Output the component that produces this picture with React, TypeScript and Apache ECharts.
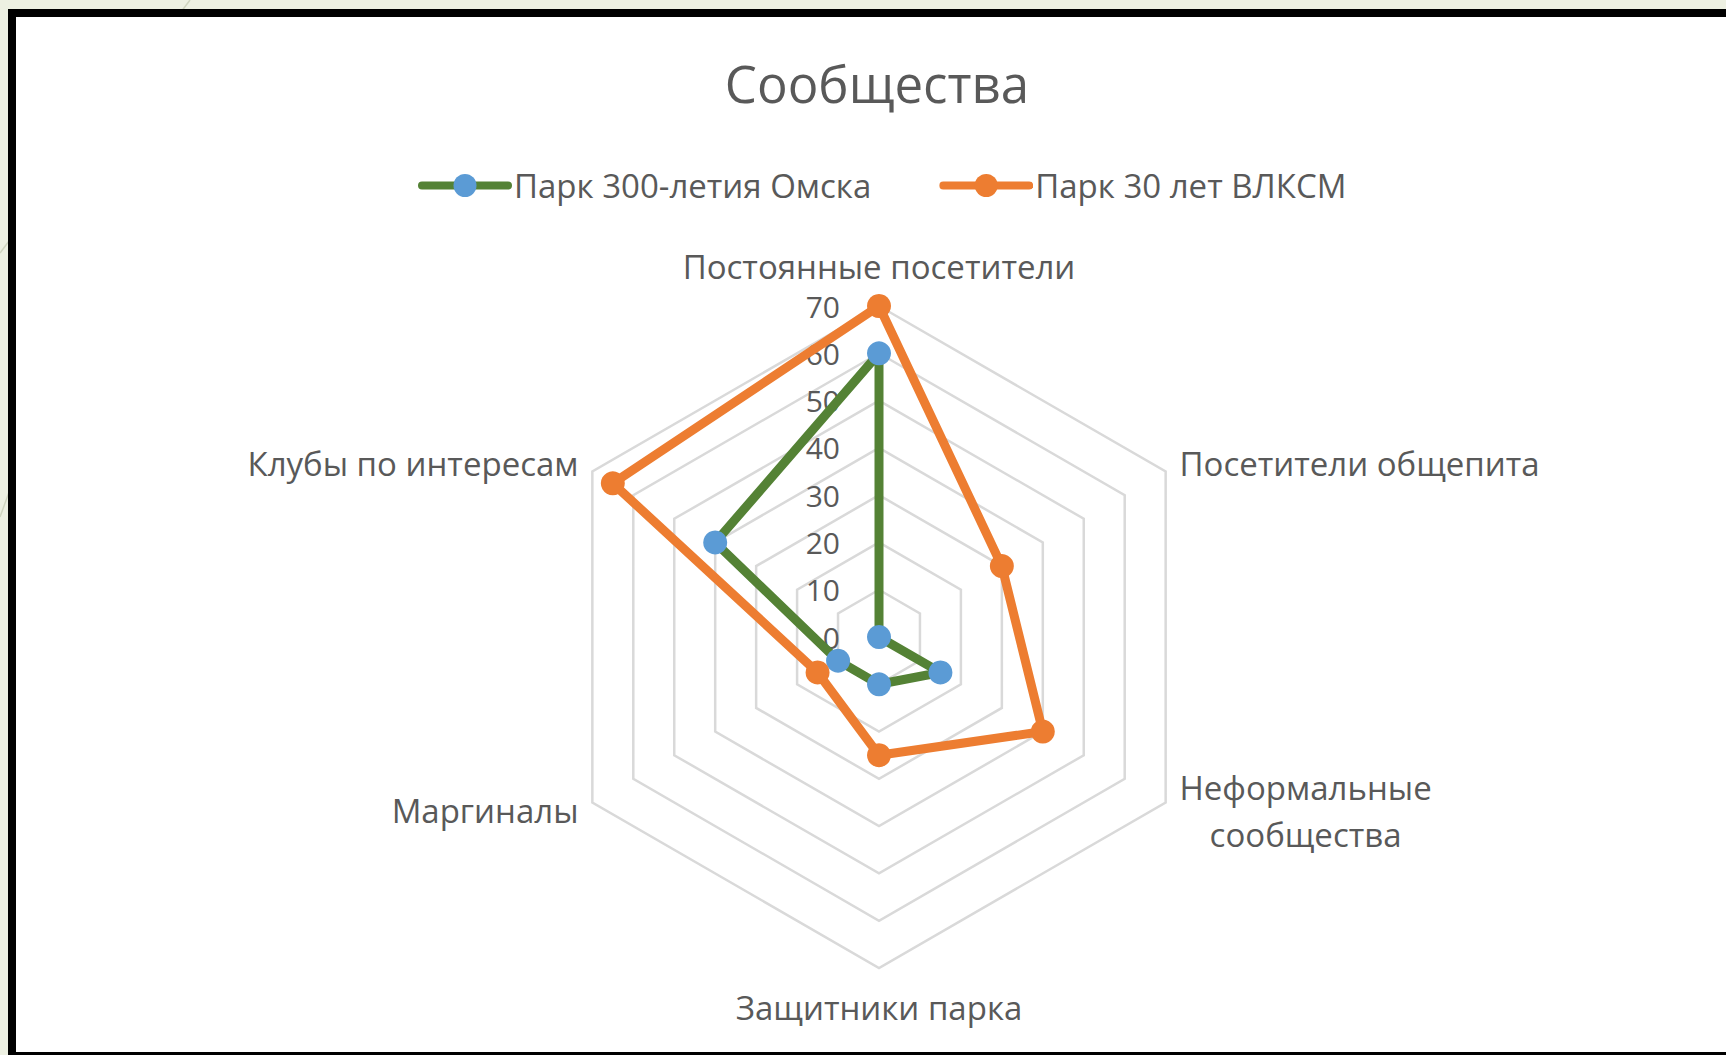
import React, { useEffect, useRef } from "react";
import * as echarts from "echarts";

const chartTitle = "Сообщества";
const indicatorNames = [
  "Постоянные посетители",
  "Посетители общепита",
  "Неформальные\nсообщества",
  "Защитники парка",
  "Маргиналы",
  "Клубы по интересам",
];
const seriesNames = ["Парк 300-летия Омска", "Парк 30 лет ВЛКСМ"];
const park300Values = [60, 0, 15, 10, 10, 40];
const vlksmValues = [70, 30, 40, 25, 15, 65];
const axisMax = 70;
const axisSplits = 7;

const FONT = "'Open Sans', 'Noto Sans', sans-serif";
const TEXT = "#595959";
const GREEN = "#548235";
const BLUE = "#5B9BD5";
const ORANGE = "#ED7D31";

// ECharts lays indicators out counter-clockwise; Excel goes clockwise.
// Keep the first indicator at the top and reverse the rest.
const order = indicatorNames.map((_, i) => (i === 0 ? 0 : indicatorNames.length - i));
const reorder = <T,>(arr: T[]) => order.map((k) => arr[k]);

function legendIcon(line: string, dot: string) {
  const svg = `<svg xmlns="http://www.w3.org/2000/svg" width="94" height="24" viewBox="0 0 94 24"><line x1="4" y1="12" x2="90" y2="12" stroke="${line}" stroke-width="8" stroke-linecap="round"/><circle cx="47" cy="12" r="11.5" fill="${dot}"/></svg>`;
  return "image://data:image/svg+xml;charset=utf-8," + encodeURIComponent(svg);
}

export default function App() {
  const ref = useRef<HTMLDivElement>(null);

  useEffect(() => {
    if (!ref.current) return;
    const chart = echarts.init(ref.current, undefined, { renderer: "svg" });
    const names = reorder(indicatorNames);
    const option: any = {
      animation: false,
      backgroundColor: "transparent",
      title: {
        text: chartTitle,
        left: "center",
        top: 57,
        padding: 0,
        textStyle: { fontFamily: FONT, fontSize: 51, fontWeight: "normal", color: TEXT },
      },
      legend: {
        left: 402,
        top: 169,
        padding: 0,
        itemWidth: 94,
        itemHeight: 24,
        itemGap: 68,
        textStyle: { fontFamily: FONT, fontSize: 33, color: TEXT, padding: [0, 0, 0, -3] },
        data: [
          { name: seriesNames[0], icon: legendIcon(GREEN, BLUE) },
          { name: seriesNames[1], icon: legendIcon(ORANGE, ORANGE) },
        ],
      },
      radar: {
        center: [863, 637],
        radius: 331,
        shape: "polygon",
        startAngle: 90,
        splitNumber: axisSplits,
        nameGap: 16,
        axisName: {
          color: TEXT,
          fontFamily: FONT,
          fontSize: 33,
          formatter: (name: string) =>
            name.split("\n").map((s) => `{c|${s}}`).join("\n"),
          rich: {
            c: { align: "center", fontFamily: FONT, fontSize: 33, color: TEXT, lineHeight: 47 },
          },
        },
        axisLine: { show: false },
        axisTick: { show: false },
        axisLabel: { show: false },
        splitArea: { show: false },
        splitLine: { lineStyle: { color: "#d9d9d9", width: 2.5 } },
        indicator: names.map((name, i) => ({
          name,
          min: 0,
          max: axisMax,
          ...(i === 0
            ? {
                axisLabel: {
                  show: true,
                  margin: 39,
                  fontFamily: FONT,
                  fontSize: 30,
                  color: TEXT,
                },
              }
            : {}),
        })),
      },
      series: [
        {
          name: seriesNames[0],
          type: "radar",
          symbol: "circle",
          symbolSize: 24,
          lineStyle: { color: GREEN, width: 9 },
          itemStyle: { color: BLUE },
          z: 2,
          data: [{ name: seriesNames[0], value: reorder(park300Values) }],
        },
        {
          name: seriesNames[1],
          type: "radar",
          symbol: "circle",
          symbolSize: 24,
          lineStyle: { color: ORANGE, width: 9 },
          itemStyle: { color: ORANGE },
          z: 3,
          data: [{ name: seriesNames[1], value: reorder(vlksmValues) }],
        },
      ],
    };
    chart.setOption(option);
    return () => chart.dispose();
  }, []);

  return (
    <div
      style={{
        position: "fixed",
        left: 0,
        top: 0,
        width: 1726,
        height: 1055,
        overflow: "hidden",
        background: "#edf0e2",
      }}
    >
      <svg
        width={1726}
        height={1055}
        style={{ position: "absolute", left: 0, top: 0 }}
      >
        <line x1={190} y1={0} x2={0} y2={253} stroke="#cfd4bf" strokeWidth={1.5} />
        <line x1={20} y1={462} x2={0} y2={517} stroke="#cfd4bf" strokeWidth={1.5} />
      </svg>
      <div
        style={{
          position: "absolute",
          left: 8,
          top: 9,
          width: 1800,
          height: 1035,
          border: "8px solid #000",
          background: "#ffffff",
        }}
      />
      <div
        ref={ref}
        style={{ position: "absolute", left: 16, top: 0, width: 1722, height: 1055 }}
      />
    </div>
  );
}
